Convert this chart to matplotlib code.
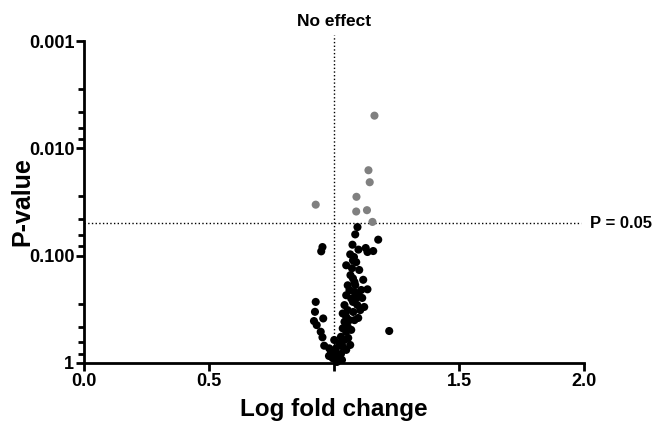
import matplotlib.pyplot as plt
import matplotlib.transforms as mtransforms
import numpy as np

plt.rcParams['font.family'] = ['Liberation Sans', 'DejaVu Sans']
plt.rcParams['font.weight'] = 'bold'

# significant points (p < 0.05), drawn grey
sig_fold = [1.162, 1.138, 1.143, 1.090, 0.927, 1.089, 1.132, 1.154]
sig_p = [0.00496, 0.0160, 0.0207, 0.0283, 0.0335, 0.0388, 0.0377, 0.0485]

# non-significant points, drawn black
ns_fold = [1.094, 1.085, 1.177, 0.954, 0.949, 1.074, 1.098, 1.127, 1.134, 1.157,
           1.065, 1.080, 1.076, 1.049, 1.072, 1.066, 1.076, 1.082, 1.055, 1.062,
           1.082, 1.098, 1.134, 1.049, 1.069, 1.076, 1.105, 1.042, 1.055, 1.035,
           1.049, 1.062, 1.042, 1.082, 1.055, 1.035, 1.049, 1.028, 1.042, 1.021,
           1.035, 1.008, 1.001, 1.015, 0.995, 1.008,
           0.927, 0.924, 0.957, 0.920, 0.931, 0.947, 0.954, 0.961, 0.981, 0.988,
           1.001, 1.221,
           1.089, 1.101, 1.085, 1.113, 1.093, 1.077, 1.097, 1.069, 1.057, 1.065,
           1.049, 1.028, 1.020, 0.980, 1.012, 1.032, 1.117, 1.109, 1.089, 1.121]
ns_p = [0.0542, 0.0634, 0.0710, 0.0832, 0.0912, 0.0791, 0.0879, 0.0849, 0.0925, 0.0906,
        0.0973, 0.103, 0.111, 0.123, 0.131, 0.152, 0.163, 0.176, 0.189, 0.210,
        0.218, 0.225, 0.206, 0.234, 0.251, 0.270, 0.322, 0.289, 0.322, 0.346,
        0.372, 0.399, 0.414, 0.399, 0.460, 0.476, 0.512, 0.570, 0.611, 0.656,
        0.706, 0.731, 0.813, 0.843, 0.904, 0.938,
        0.270, 0.334, 0.385, 0.407, 0.444, 0.512, 0.577, 0.691, 0.731, 0.785,
        0.611, 0.504,
        0.115, 0.136, 0.188, 0.248, 0.288, 0.335, 0.381, 0.492, 0.585, 0.680,
        0.756, 0.824, 0.898, 0.861, 0.979, 0.938, 0.168, 0.209, 0.248, 0.301]

x_ticks = [0.0, 0.5, 1.0, 1.5, 2.0]
x_labels = ['0.0', '0.5', '', '1.5', '2.0']
y_ticks = [0.001, 0.01, 0.1, 1]
y_labels = ['0.001', '0.010', '0.100', '1']
threshold = 0.05

fig = plt.figure(figsize=(6.54, 4.23), dpi=100)
ax = fig.add_axes([0.1284, 0.142, 0.7645, 0.761])

ax.scatter(ns_fold, ns_p, s=34, color='black', edgecolors='none', zorder=3, clip_on=False)
ax.scatter(sig_fold, sig_p, s=34, color='#808080', edgecolors='none', zorder=3, clip_on=False)

ax.set_yscale('log')
ax.set_xlim(0, 2)
ax.set_ylim(1, 0.001)

ax.axhline(threshold, xmax=0.995, color='black', linestyle=':', linewidth=1, zorder=1)
ax.plot([1, 1], [1, 0.00088], color='black', linestyle=':', linewidth=1,
        zorder=1, clip_on=False)
ax.text(1, 0.00078, 'No effect', ha='center', va='bottom', fontsize=12.5, fontweight='bold')
trans = mtransforms.blended_transform_factory(fig.transFigure, ax.transData)
ax.text(0.997, threshold, 'P = 0.05', ha='right', va='center', fontsize=12,
        fontweight='bold', transform=trans)

ax.set_xticks(x_ticks)
ax.set_xticklabels(x_labels)
ax.set_yticks(y_ticks)
ax.set_yticklabels(y_labels)

# minor ticks: four evenly (linearly) spaced inside each decade
minor = []
for lo in [0.001, 0.01, 0.1]:
    minor.extend(np.linspace(lo, lo * 10, 6)[1:-1])
ax.set_yticks(minor, minor=True)
ax.yaxis.set_minor_formatter(plt.NullFormatter())

for side in ['top', 'right']:
    ax.spines[side].set_visible(False)
for side in ['left', 'bottom']:
    ax.spines[side].set_linewidth(2)

ax.tick_params(axis='both', which='major', direction='out', length=6, width=2,
               labelsize=13, pad=1)
ax.tick_params(axis='y', which='minor', direction='out', length=4, width=2)
ax.tick_params(axis='x', which='minor', length=0)

ax.set_xlabel('Log fold change', fontsize=17.5, fontweight='bold', labelpad=6)
ax.set_ylabel('P-value', fontsize=18, fontweight='bold')
ax.yaxis.set_label_coords(-0.1, 0.5)

fig.savefig('out.png', dpi=100)
